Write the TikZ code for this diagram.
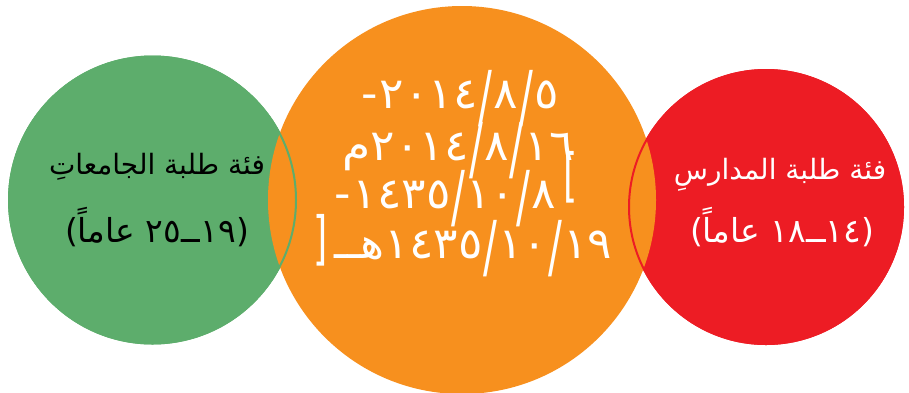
\documentclass[tikz,border=0pt]{standalone}
\usepackage{fontspec}
\usepackage{graphicx}
\TeXXeTstate=1
\newfontfamily\arabicfont[Script=Arabic]{DejaVu Sans}
\newfontfamily\datefont[Script=Arabic,FakeStretch=1.06]{DejaVu Sans}
\definecolor{cgreen}{RGB}{93,173,108}
\definecolor{corange}{RGB}{247,144,30}
\definecolor{cred}{RGB}{237,28,36}
\newcommand\dsl{\hspace{1pt}\raisebox{-0.3em}{\scalebox{0.9}[1.6]{/}}\hspace{1pt}}
\newcommand\dash{\mbox{-}\hspace{2pt}}
\tikzset{
  sidetext/.style={font=\arabicfont\fontsize{28}{32}\selectfont, anchor=base, inner sep=0pt},
  sidenum/.style={font=\arabicfont\fontsize{33}{38}\selectfont, anchor=base, inner sep=0pt},
  datetext/.style={font=\datefont\fontsize{43}{48}\selectfont, text=white, anchor=base, inner sep=0pt},
}
\begin{document}
\begin{tikzpicture}[x=1pt,y=-1pt]
\useasboundingbox (0,0) rectangle (909,392);
% fills
\fill[cgreen] (152.5,200) circle[radius=144.5pt];
\fill[cred] (766,207) circle[radius=138pt];
\fill[corange] (462,200) circle[radius=194pt];
% outlines over the orange
\draw[cgreen, line width=2pt] (152.5,200) circle[radius=143.5pt];
\draw[cred, line width=2pt] (766,207) circle[radius=137pt];
% left circle
\node[sidetext, text=black] (gl1) at (157,174) {\beginR فئة طلبة الجامعاتِ\endR};
\node[sidenum, text=black] (gl2) at (157,242) {\beginR (١٩ــ٢٥ عاماً)\endR};
% right circle
\node[sidetext, text=white] (rl1) at (780,179) {\beginR فئة طلبة المدارسِ\endR};
\node[sidenum, text=white] (rl2) at (782,242) {\beginR (١٤ــ١٨ عاماً)\endR};
% centre
\node[datetext] (c1) at (460,108) {\dash\mbox{٢٠١٤}\dsl\mbox{٨}\dsl\mbox{٥}};
\node[datetext] (c2) at (458,160) {\mbox{م}\mbox{٢٠١٤}\dsl\mbox{٨}\dsl\mbox{١٦}};
\node[datetext] (c3) at (456,208) {\dash\mbox{١٤٣٥}\dsl\mbox{١٠}\dsl\mbox{٨}\hspace{8pt}\raisebox{0.3em}{\scalebox{0.8}[1.35]{]}}};
\node[datetext] (c4) at (463,258) {\raisebox{-0.02em}{\scalebox{0.8}[1.35]{[}}\hspace{6pt}\mbox{هــ}\mbox{١٤٣٥}\dsl\mbox{١٠}\dsl\mbox{١٩}};
\end{tikzpicture}
\end{document}
